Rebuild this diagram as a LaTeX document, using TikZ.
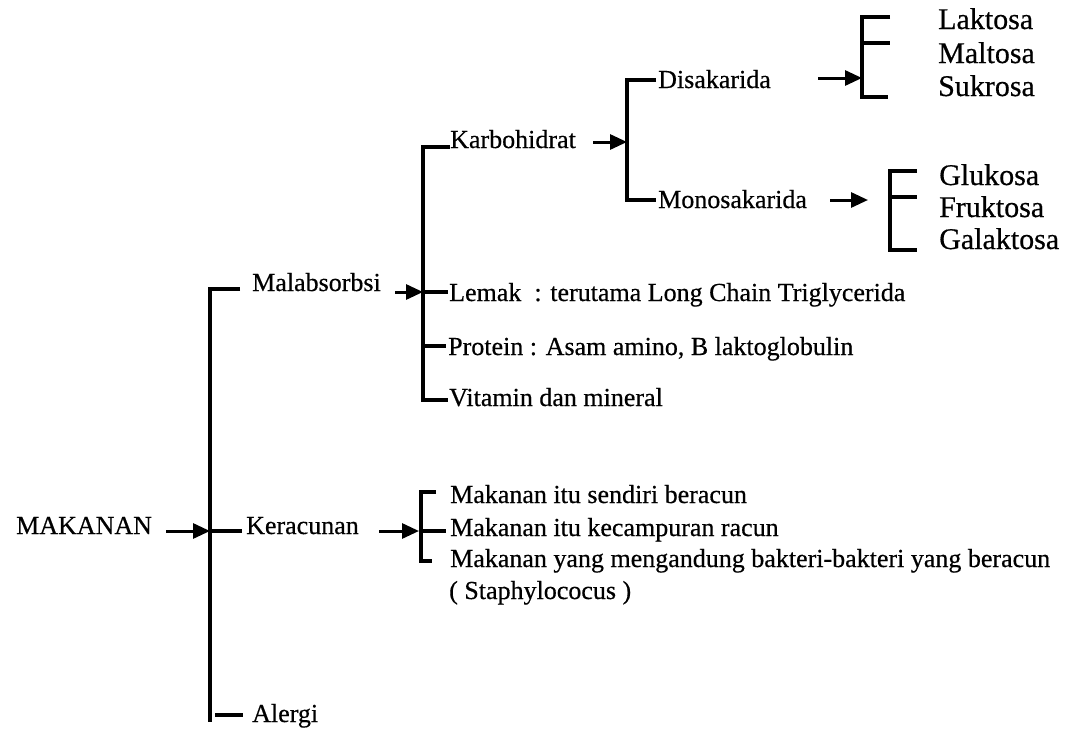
\documentclass[tikz,border=0pt]{standalone}
\usepackage{fontspec}
\setmainfont[FakeBold=0.5]{Liberation Serif}
\usetikzlibrary{arrows.meta}
\begin{document}
\begin{tikzpicture}[x=1pt,y=-1pt,
  lbl/.style={anchor=base west, inner sep=0pt, font=\fontsize{26}{30}\selectfont},
  big/.style={anchor=base west, inner sep=0pt, font=\fontsize{30}{34}\selectfont},
  ln/.style={line width=3.5pt, line cap=butt},
  arr/.style={line width=3pt, -{Triangle[length=17pt,width=15pt]}}]
\useasboundingbox (0,0) rectangle (1086,728);

% ---------- root ----------
\node[lbl] (mak) at (16,534) {MAKANAN};
\coordinate (makA) at (166,531);
\coordinate (T1) at (210,289);
\coordinate (T2) at (210,531);
\coordinate (T3) at (210,722);
\coordinate (T1e) at (240,289);
\coordinate (T2e) at (242,531);
\coordinate (T3s) at (215,715);
\coordinate (T3e) at (243,715);
\draw[ln] (T1e) -- (T1) -- (T3);
\draw[ln] (T2) -- (T2e);
\draw[ln] (T3s) -- (T3e);
\draw[arr] (makA) -- (T2);

\node[lbl] (mal) at (252,291) {Malabsorbsi};
\node[lbl] (ker) at (246,534) {Keracunan};
\node[lbl] (ale) at (252,722) {Alergi};

% ---------- Malabsorbsi ----------
\coordinate (malA) at (395,292);
\coordinate (M1) at (423,147);
\coordinate (M2) at (423,292);
\coordinate (M3) at (423,346);
\coordinate (M4) at (423,400);
\coordinate (M1e) at (450,147);
\coordinate (M2e) at (448,292);
\coordinate (M3e) at (446,346);
\coordinate (M4e) at (448,400);
\draw[ln] (M1e) -- (M1) -- (M4) -- (M4e);
\draw[ln] (M2) -- (M2e);
\draw[ln] (M3) -- (M3e);
\draw[arr] (malA) -- (M2);

\node[lbl] (karb) at (450,148) {Karbohidrat};
\node[lbl] (lem) at (449,301) {Lemak\ \ : terutama Long Chain Triglycerida};
\node[lbl] (pro) at (448,355) {Protein : Asam amino, B laktoglobulin};
\node[lbl] (vit) at (449,406) {Vitamin dan mineral};

% ---------- Karbohidrat ----------
\coordinate (karbA) at (593,142);
\coordinate (K1) at (627,80);
\coordinate (K0) at (627,142);
\coordinate (K2) at (627,200);
\coordinate (K1e) at (656,80);
\coordinate (K2e) at (656,200);
\draw[ln] (K1e) -- (K1) -- (K2) -- (K2e);
\draw[arr] (karbA) -- (K0);

\node[lbl] (dis) at (658,88) {Disakarida};
\node[lbl] (mono) at (658,208) {Monosakarida};

% ---------- Disakarida ----------
\coordinate (disA) at (818,78);
\coordinate (D0) at (862,78);
\coordinate (D1) at (862,17);
\coordinate (D2) at (862,43);
\coordinate (D3) at (862,97);
\coordinate (D1e) at (890,17);
\coordinate (D2e) at (890,43);
\coordinate (D3e) at (888,97);
\draw[ln] (D1e) -- (D1) -- (D3) -- (D3e);
\draw[ln] (D2) -- (D2e);
\draw[arr] (disA) -- (D0);

\node[big] (lak) at (938,29) {Laktosa};
\node[big] (mal2) at (938,63) {Maltosa};
\node[big] (suk) at (938,96) {Sukrosa};

% ---------- Monosakarida ----------
\coordinate (monA) at (830,200);
\coordinate (monB) at (868,200);
\coordinate (G1) at (890,171);
\coordinate (G2) at (890,197);
\coordinate (G3) at (890,250);
\coordinate (G1e) at (917,171);
\coordinate (G2e) at (917,197);
\coordinate (G3e) at (917,250);
\draw[ln] (G1e) -- (G1) -- (G3) -- (G3e);
\draw[ln] (G2) -- (G2e);
\draw[arr] (monA) -- (monB);

\node[big] (glu) at (939,185) {Glukosa};
\node[big] (fru) at (939,217) {Fruktosa};
\node[big] (gal) at (939,249) {Galaktosa};

% ---------- Keracunan ----------
\coordinate (kerA) at (379,531);
\coordinate (R0) at (419,531);
\coordinate (R1) at (421,492);
\coordinate (R2) at (421,531);
\coordinate (R3) at (421,561);
\coordinate (R1e) at (436,492);
\coordinate (R2e) at (446,531);
\coordinate (R3e) at (432,561);
\draw[ln] (R1e) -- (R1) -- (R3) -- (R3e);
\draw[ln] (R2) -- (R2e);
\draw[arr] (kerA) -- (R0);

\node[lbl] (r1) at (450,503) {Makanan itu sendiri beracun};
\node[lbl] (r2) at (450,536) {Makanan itu kecampuran racun};
\node[lbl] (r3) at (450,567) {Makanan yang mengandung bakteri-bakteri yang beracun};
\node[lbl] (r4) at (449,599) {( Staphylococus )};
\end{tikzpicture}
\end{document}
